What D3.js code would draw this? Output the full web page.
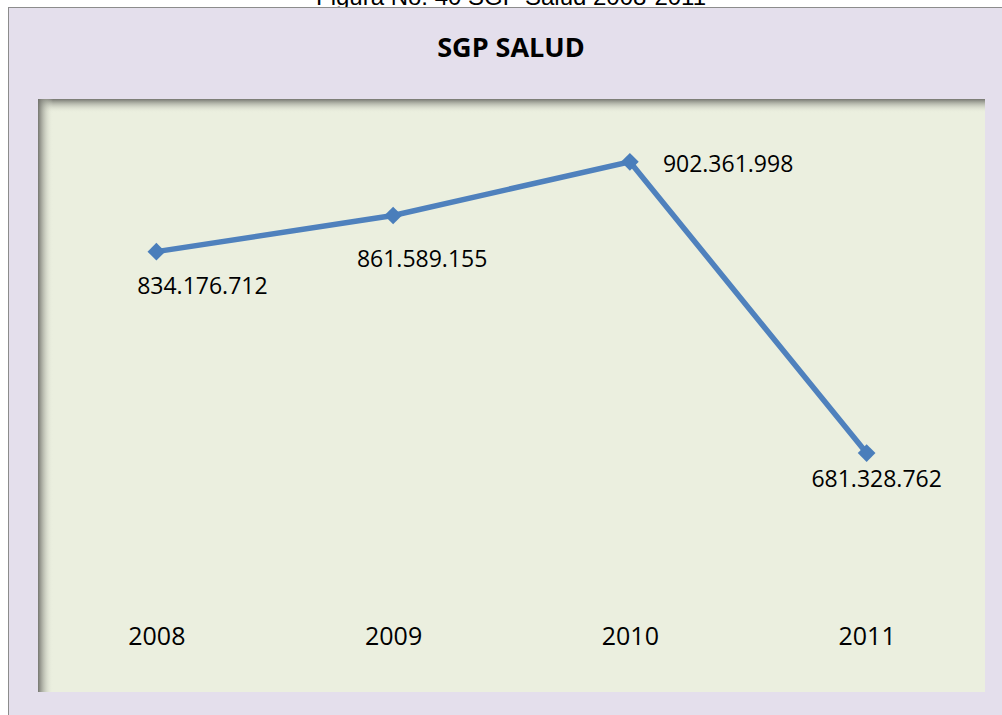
<!DOCTYPE html>
<html>
<head>
  <meta charset="utf-8">
  <script src="https://d3js.org/d3.v7.min.js"></script>
  <style>
    body { margin: 0; background: #ffffff; }
    svg { display: block; }
    .caption { font-family: "Liberation Sans", Arial, sans-serif; font-size: 24px; fill: #000; }
    .title { font-family: "Open Sans", sans-serif; font-weight: bold; font-size: 27px; fill: #000; }
    .vlabel { font-family: "Open Sans", sans-serif; font-size: 23px; fill: #000; }
    .xaxis text { font-family: "Open Sans", sans-serif; font-size: 25px; fill: #000; }
  </style>
</head>
<body>
<script>
  // chart data
  var years = ["2008", "2009", "2010", "2011"];
  var sgpSalud = [834176712, 861589155, 902361998, 681328762];
  var valueLabels = ["834.176.712", "861.589.155", "902.361.998", "681.328.762"];

  var W = 1002, H = 715;
  // plot area (inner green box)
  var plot = {left: 38, top: 99, right: 985, bottom: 692};

  var svg = d3.select("body").append("svg")
      .attr("width", W)
      .attr("height", H);

  var defs = svg.append("defs");
  var gTop = defs.append("linearGradient").attr("id", "shTop")
      .attr("x1", 0).attr("y1", 0).attr("x2", 0).attr("y2", 1);
  gTop.append("stop").attr("offset", "0%").attr("stop-color", "#6f706a").attr("stop-opacity", 0.95);
  gTop.append("stop").attr("offset", "100%").attr("stop-color", "#ebefdf").attr("stop-opacity", 0);
  var gLeft = defs.append("linearGradient").attr("id", "shLeft")
      .attr("x1", 0).attr("y1", 0).attr("x2", 1).attr("y2", 0);
  gLeft.append("stop").attr("offset", "0%").attr("stop-color", "#6f706a").attr("stop-opacity", 0.95);
  gLeft.append("stop").attr("offset", "100%").attr("stop-color", "#ebefdf").attr("stop-opacity", 0);

  // figure caption (cut off at the top, as in the source page)
  svg.append("text")
      .attr("class", "caption")
      .attr("x", 511)
      .attr("y", 5)
      .attr("text-anchor", "middle")
      .text("Figura No. 40 SGP  Salud 2008-2011");

  // outer chart area
  svg.append("rect")
      .attr("x", 8.5).attr("y", 7.5)
      .attr("width", W).attr("height", H)
      .attr("fill", "#e4dfec")
      .attr("stroke", "#8c8c8c")
      .attr("stroke-width", 1);

  // plot area + inner shadow
  svg.append("rect")
      .attr("x", plot.left).attr("y", plot.top)
      .attr("width", plot.right - plot.left)
      .attr("height", plot.bottom - plot.top)
      .attr("fill", "#ebefdf");
  svg.append("rect")
      .attr("x", plot.left).attr("y", plot.top)
      .attr("width", plot.right - plot.left).attr("height", 14)
      .attr("fill", "url(#shTop)");
  svg.append("rect")
      .attr("x", plot.left).attr("y", plot.top)
      .attr("width", 15).attr("height", plot.bottom - plot.top)
      .attr("fill", "url(#shLeft)");

  svg.append("text")
      .attr("class", "title")
      .attr("x", 511)
      .attr("y", 57)
      .attr("text-anchor", "middle")
      .text("SGP SALUD");

  var x = d3.scalePoint()
      .domain(years)
      .range([plot.left, plot.right])
      .padding(0.5);

  var y = d3.scaleLinear()
      .domain([500000000, 950000000])
      .range([plot.bottom, plot.top]);

  // category labels, no axis line
  var xAxis = svg.append("g")
      .attr("class", "xaxis")
      .attr("transform", "translate(0,627)")
      .call(d3.axisBottom(x).tickSize(0).tickPadding(0));
  xAxis.select(".domain").remove();
  xAxis.selectAll("text").attr("dy", "0.71em");

  var pts = years.map(function(d, i) {
    return {year: d, value: sgpSalud[i], label: valueLabels[i]};
  });

  var line = d3.line()
      .x(function(d) { return x(d.year); })
      .y(function(d) { return y(d.value); });

  svg.append("path")
      .datum(pts)
      .attr("d", line)
      .attr("fill", "none")
      .attr("stroke", "#4f81bd")
      .attr("stroke-width", 5.5);

  svg.selectAll(".marker")
      .data(pts)
      .enter().append("path")
      .attr("class", "marker")
      .attr("d", d3.symbol().type(d3.symbolDiamond2).size(200))
      .attr("transform", function(d) {
        return "translate(" + x(d.year) + "," + y(d.value) + ")";
      })
      .attr("fill", "#4a7ebb");

  // label placement relative to each marker (anchor, dx, dy)
  var labelPos = [
    ["middle", 46, 42],
    ["middle", 29, 51],
    ["start", 33, 10],
    ["middle", 10, 34]
  ];

  svg.selectAll(".vlabel")
      .data(pts)
      .enter().append("text")
      .attr("class", "vlabel")
      .attr("text-anchor", function(d, i) { return labelPos[i][0]; })
      .attr("x", function(d, i) { return x(d.year) + labelPos[i][1]; })
      .attr("y", function(d, i) { return y(d.value) + labelPos[i][2]; })
      .text(function(d) { return d.label; });
</script>
</body>
</html>
